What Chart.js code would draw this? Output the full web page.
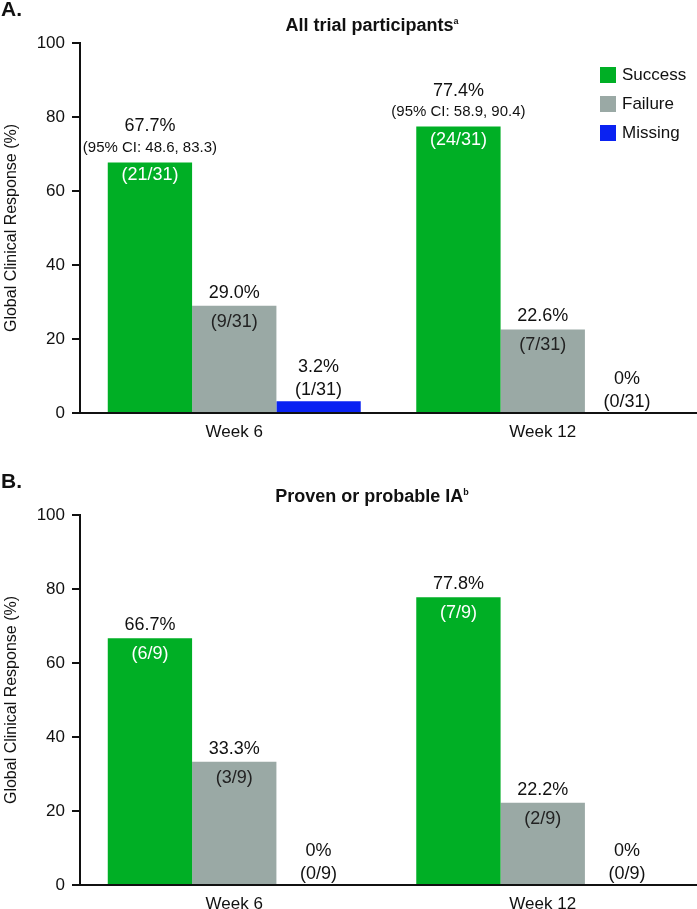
<!DOCTYPE html>
<html>
<head>
<meta charset="utf-8">
<title>Global Clinical Response</title>
<script src="https://cdn.jsdelivr.net/npm/chart.js@4.4.1/dist/chart.umd.min.js"></script>
<style>
  body { margin: 0; background: #fff; font-family: "Liberation Sans", Arial, sans-serif; color: #111; }
  #page { position: relative; width: 697px; height: 909px; overflow: hidden; }
  .panel { position: absolute; left: 0; width: 697px; }
  .tag { position: absolute; left: 1px; font-weight: bold; font-size: 21px; line-height: 21px; }
  .title { position: absolute; left: 172px; width: 400px; text-align: center; font-weight: bold; font-size: 18px; line-height: 20px; }
  .title sup { font-size: 9px; vertical-align: top; line-height: 12px; }
  .legend { position: absolute; left: 600px; top: 66px; }
  .legend div { height: 29px; font-size: 17px; line-height: 18px; white-space: nowrap; }
  .legend span.box { display: inline-block; width: 16px; height: 16px; vertical-align: top; margin-right: 6px; margin-top: 1px; }
  canvas { position: absolute; left: 0; top: 0; }
</style>
</head>
<body>
<div id="page">
  <div class="panel" style="top:0;height:455px;">
    <canvas id="chartA" width="697" height="455"></canvas>
    <div class="tag" style="top:-2px;">A.</div>
    <div class="title" style="top:15px;">All trial participants<sup>a</sup></div>
    <div class="legend" id="legend"></div>
  </div>
  <div class="panel" style="top:455px;height:454px;">
    <canvas id="chartB" width="697" height="454"></canvas>
    <div class="tag" style="top:15px;">B.</div>
    <div class="title" style="top:31px;">Proven or probable IA<sup>b</sup></div>
  </div>
</div>
<script>
const categories = ['Week 6', 'Week 12'];
const seriesNames = ['Success', 'Failure', 'Missing'];
const seriesColors = ['#00AF25', '#9AA9A5', '#0A22F2'];
const yTicks = [0, 20, 40, 60, 80, 100];

// panel A - all trial participants
const allSuccess = [67.7, 77.4];
const allFailure = [29.0, 22.6];
const allMissing = [3.2, 0];
const allSuccessN = ['(21/31)', '(24/31)'];
const allFailureN = ['(9/31)', '(7/31)'];
const allMissingN = ['(1/31)', '(0/31)'];
const allCI = ['(95% CI: 48.6, 83.3)', '(95% CI: 58.9, 90.4)'];

// panel B - proven or probable IA
const iaSuccess = [66.7, 77.8];
const iaFailure = [33.3, 22.2];
const iaMissing = [0, 0];
const iaSuccessN = ['(6/9)', '(7/9)'];
const iaFailureN = ['(3/9)', '(2/9)'];
const iaMissingN = ['(0/9)', '(0/9)'];

const FONT = '"Liberation Sans", Arial, sans-serif';

function pct(v) {
  return v === 0 ? '0%' : v.toFixed(1) + '%';
}

const barLabels = {
  id: 'barLabels',
  afterDatasetsDraw(chart, args, opts) {
    const ctx = chart.ctx;
    ctx.save();
    ctx.textAlign = 'center';
    ctx.textBaseline = 'middle';
    chart.data.datasets.forEach((ds, i) => {
      const meta = chart.getDatasetMeta(i);
      meta.data.forEach((bar, j) => {
        const x = bar.x, top = bar.y;
        const n = opts.counts[i][j];
        ctx.font = '18px ' + FONT;
        if (i === 0) {
          if (opts.ci) {
            ctx.fillStyle = '#111';
            ctx.fillText(pct(ds.data[j]), x, top - 36);
            ctx.font = '15px ' + FONT;
            ctx.fillText(opts.ci[j], x, top - 15);
            ctx.font = '18px ' + FONT;
            ctx.fillStyle = '#fff';
            ctx.fillText(n, x, top + 13);
          } else {
            ctx.fillStyle = '#111';
            ctx.fillText(pct(ds.data[j]), x, top - 13);
            ctx.fillStyle = '#fff';
            ctx.fillText(n, x, top + 16);
          }
        } else if (i === 1) {
          ctx.fillStyle = '#111';
          ctx.fillText(pct(ds.data[j]), x, top - 13);
          ctx.fillStyle = '#222';
          ctx.fillText(n, x, top + 16);
        } else {
          ctx.fillStyle = '#111';
          ctx.fillText(pct(ds.data[j]), x, top - 34);
          ctx.fillText(n, x, top - 11);
        }
      });
    });
    ctx.restore();
  }
};

function makeChart(id, values, counts, ci, padTop, xHeight) {
  return new Chart(document.getElementById(id), {
    type: 'bar',
    data: {
      labels: categories,
      datasets: values.map((v, i) => ({
        label: seriesNames[i],
        data: v,
        backgroundColor: seriesColors[i],
        borderWidth: 0,
        barPercentage: 1,
        categoryPercentage: 0.82
      }))
    },
    options: {
      responsive: false,
      animation: false,
      layout: { padding: { top: padTop, right: 0, bottom: 0, left: 0 } },
      plugins: {
        legend: { display: false },
        tooltip: { enabled: false },
        barLabels: { counts: counts, ci: ci }
      },
      scales: {
        x: {
          grid: { display: true, drawOnChartArea: false, drawTicks: false },
          border: { display: true, color: '#111', width: 2 },
          ticks: { padding: 9, color: '#111', font: { family: FONT, size: 17 } },
          afterFit: s => { s.height = xHeight; }
        },
        y: {
          min: 0,
          max: 100,
          afterBuildTicks: s => { s.ticks = yTicks.map(v => ({ value: v })); },
          ticks: { padding: 7, color: '#111', font: { family: FONT, size: 17 } },
          grid: { drawOnChartArea: false, drawTicks: true, tickLength: 8, color: '#111', lineWidth: 2 },
          border: { color: '#111', width: 2 },
          title: {
            display: true,
            text: 'Global Clinical Response (%)',
            color: '#111',
            font: { family: FONT, size: 16 },
            padding: { top: 2, bottom: 0 }
          },
          afterFit: s => { s.width = 80; }
        }
      }
    },
    plugins: [barLabels]
  });
}

makeChart('chartA', [allSuccess, allFailure, allMissing], [allSuccessN, allFailureN, allMissingN], allCI, 43, 42);
makeChart('chartB', [iaSuccess, iaFailure, iaMissing], [iaSuccessN, iaFailureN, iaMissingN], null, 60, 24);

const legend = document.getElementById('legend');
seriesNames.forEach((name, i) => {
  const row = document.createElement('div');
  row.innerHTML = '<span class="box" style="background:' + seriesColors[i] + '"></span>' + name;
  legend.appendChild(row);
});
</script>
</body>
</html>
